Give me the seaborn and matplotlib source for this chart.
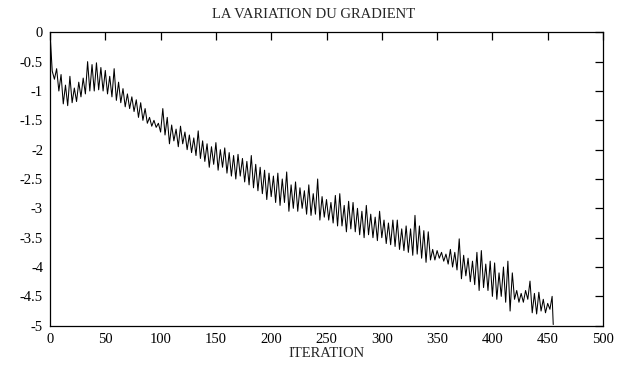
import matplotlib
matplotlib.use("Agg")
import matplotlib.pyplot as plt
import seaborn as sns
import pandas as pd

# vertices of the gradient curve (peak / trough sequence)
iterations = [
    0, 2, 4, 6, 8, 10, 12, 14, 16, 18, 20, 22, 24, 26, 28, 30, 32, 34, 36, 38,
    40, 42, 44, 46, 48, 50, 52, 54, 56, 58, 60, 62, 64, 66, 68, 70, 72, 74, 76, 78,
    80, 82, 84, 86, 88, 90, 92, 94, 96, 98, 100, 102, 104, 106, 108, 110, 112, 114, 116, 118,
    120, 122, 124, 126, 128, 130, 132, 134, 136, 138, 140, 142, 144, 146, 148, 150, 152, 154, 156, 158,
    160, 162, 164, 166, 168, 170, 172, 174, 176, 178, 180, 182, 184, 186, 188, 190, 192, 194, 196, 198,
    200, 202, 204, 206, 208, 210, 212, 214, 216, 218, 220, 222, 224, 226, 228, 230, 232, 234, 236, 238,
    240, 242, 244, 246, 248, 250, 252, 254, 256, 258, 260, 262, 264, 266, 268, 270, 272, 274, 276, 278,
    280, 282, 284, 286, 288, 290, 292, 294, 296, 298, 300, 302, 304, 306, 308, 310, 312, 314, 316, 318,
    320, 322, 324, 326, 328, 330, 332, 334, 336, 338, 340, 342, 344, 346, 348, 350, 352, 354, 356, 358,
    360, 362, 364, 366, 368, 370, 372, 374, 376, 378, 380, 382, 384, 386, 388, 390, 392, 394, 396, 398,
    400, 402, 404, 406, 408, 410, 412, 414, 416, 418, 420, 422, 424, 426, 428, 430, 432, 434, 436, 438,
    440, 442, 444, 446, 448, 450, 452, 454, 455,
]
gradient = [
    0.0, -0.66, -0.8, -0.62, -1.0, -0.72, -1.22, -0.9, -1.25, -0.75, -1.2, -0.95, -1.18, -0.85, -1.1, -0.78, -1.05, -0.5, -1.0, -0.55,
    -1.0, -0.52, -0.98, -0.6, -1.0, -0.65, -1.05, -0.75, -1.1, -0.62, -1.16, -0.85, -1.2, -0.96, -1.27, -1.05, -1.3, -1.1, -1.35, -1.15,
    -1.45, -1.2, -1.5, -1.3, -1.55, -1.45, -1.6, -1.5, -1.62, -1.55, -1.7, -1.3, -1.75, -1.45, -1.9, -1.58, -1.85, -1.65, -1.95, -1.6,
    -1.9, -1.7, -2.0, -1.75, -2.05, -1.8, -2.1, -1.68, -2.15, -1.85, -2.2, -1.9, -2.3, -1.95, -2.25, -1.88, -2.35, -2.0, -2.3, -1.97,
    -2.4, -2.05, -2.45, -2.1, -2.5, -2.08, -2.45, -2.15, -2.55, -2.2, -2.6, -2.1, -2.65, -2.25, -2.7, -2.3, -2.75, -2.35, -2.85, -2.4,
    -2.8, -2.45, -2.9, -2.4, -2.95, -2.5, -2.9, -2.38, -3.05, -2.6, -3.0, -2.55, -3.05, -2.65, -3.0, -2.7, -3.1, -2.6, -3.12, -2.75,
    -3.1, -2.5, -3.2, -2.8, -3.15, -2.85, -3.2, -2.9, -3.25, -2.78, -3.3, -2.75, -3.3, -2.95, -3.4, -2.88, -3.35, -2.9, -3.4, -3.0,
    -3.45, -3.05, -3.5, -2.95, -3.45, -3.1, -3.5, -3.15, -3.55, -3.05, -3.5, -3.2, -3.6, -3.25, -3.62, -3.2, -3.65, -3.2, -3.7, -3.35,
    -3.72, -3.3, -3.75, -3.35, -3.8, -3.12, -3.78, -3.3, -3.85, -3.38, -3.92, -3.4, -3.88, -3.7, -3.88, -3.72, -3.85, -3.75, -3.9, -3.78,
    -3.95, -3.7, -4.0, -3.75, -4.05, -3.52, -4.2, -3.8, -4.15, -3.85, -4.25, -3.9, -4.3, -3.75, -4.4, -3.72, -4.35, -3.95, -4.4, -3.9,
    -4.5, -3.93, -4.55, -4.1, -4.5, -4.0, -4.6, -3.9, -4.75, -4.1, -4.55, -4.4, -4.6, -4.45, -4.6, -4.4, -4.55, -4.24, -4.78, -4.45,
    -4.8, -4.43, -4.75, -4.55, -4.78, -4.62, -4.72, -4.5, -4.98,
]

x_ticks = [0, 50, 100, 150, 200, 250, 300, 350, 400, 450, 500]
y_ticks = [0, -0.5, -1, -1.5, -2, -2.5, -3, -3.5, -4, -4.5, -5]
y_tick_labels = ["0", "-0.5", "-1", "-1.5", "-2", "-2.5", "-3", "-3.5", "-4", "-4.5", "-5"]

df = pd.DataFrame({"iteration": iterations, "gradient": gradient})

sns.set_style("white")
plt.rcParams["font.family"] = ["Liberation Serif", "DejaVu Serif"]

fig = plt.figure(figsize=(6.18, 3.68), dpi=100)
ax = fig.add_axes([50 / 618, 1 - 325.7 / 368, 553 / 618, (325.7 - 32.3) / 368])

sns.lineplot(data=df, x="iteration", y="gradient", ax=ax, color="black",
             linewidth=0.75, estimator=None, sort=False)

ax.set_xlim(0, 500)
ax.set_ylim(-5, 0)
ax.set_xticks(x_ticks)
ax.set_xticklabels([str(t) for t in x_ticks])
ax.set_yticks(y_ticks)
ax.set_yticklabels(y_tick_labels)
ax.tick_params(direction="in", length=6, width=0.9, top=True, right=True,
               labelsize=10.5, colors="black", pad=5)
for s in ax.spines.values():
    s.set_visible(True)
    s.set_color("black")
    s.set_linewidth(0.9)

ax.set_xlabel("ITERATION", fontsize=10.5, labelpad=1)
ax.set_ylabel("")
fig.text(314 / 618, 1 - 14 / 368, "LA VARIATION DU GRADIENT", ha="center",
         va="center", fontsize=10.5)

fig.savefig("out.png", dpi=100)
